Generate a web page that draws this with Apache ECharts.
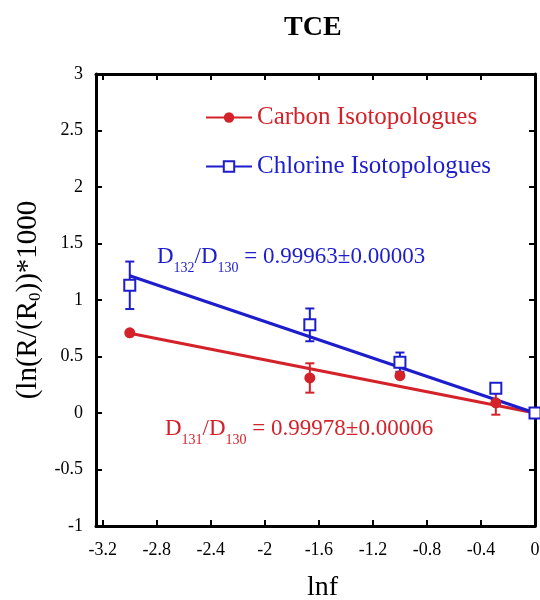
<!DOCTYPE html>
<html>
  <head>
    <meta charset="utf-8" />
    <title>TCE</title>
    <script src="https://cdn.jsdelivr.net/npm/echarts@6/dist/echarts.min.js"></script>
  </head>
  <body style="margin:0">
    <div id="container" style="width: 540px;height: 600px;"></div>

    <script type="text/javascript">
    // 数据（从图上读出来的估计值）
    var xTicks = [-3.2, -2.8, -2.4, -2, -1.6, -1.2, -0.8, -0.4, 0];
    var lnf = [-3.0, -1.667, -1.0, -0.29, 0];
    var carbon = [0.71, 0.31, 0.33, 0.09, 0];
    var carbonErr = [0, 0.13, 0, 0.105, 0];
    var chlorine = [1.13, 0.78, 0.45, 0.22, 0];
    var chlorineErr = [0.21, 0.145, 0.085, 0.025, 0];
    var fitX = [-3.0, 0];
    var carbonFit = [0.705, 0];
    var chlorineFit = [1.215, 0];

    var RED = '#d4222a';
    var BLUE = '#1d1dcc';
    var FONT = 'Liberation Serif';

    function pairs(xs, ys) {
      return xs.map(function (x, i) { return [x, ys[i]]; });
    }
    function errData(xs, ys, es) {
      var out = [];
      for (var i = 0; i < xs.length; i++) {
        if (es[i] > 0) out.push([xs[i], ys[i] - es[i], ys[i] + es[i]]);
      }
      return out;
    }
    // 误差棒
    function errRender(color) {
      return function (params, api) {
        var x = api.value(0);
        var top = api.coord([x, api.value(2)]);
        var bot = api.coord([x, api.value(1)]);
        var w = 4.5;
        var st = { stroke: color, lineWidth: 2 };
        return {
          type: 'group',
          children: [
            { type: 'line', shape: { x1: top[0], y1: top[1], x2: bot[0], y2: bot[1] }, style: st },
            { type: 'line', shape: { x1: top[0] - w, y1: top[1], x2: top[0] + w, y2: top[1] }, style: st },
            { type: 'line', shape: { x1: bot[0] - w, y1: bot[1], x2: bot[0] + w, y2: bot[1] }, style: st }
          ]
        };
      };
    }
    // 带下标的文字样式
    function subRich(color, size, subSize, subLH) {
      return {
        m: { fontFamily: FONT, fontSize: size, lineHeight: size, verticalAlign: 'top', color: color, fill: color },
        s: { fontFamily: FONT, fontSize: subSize, lineHeight: subLH, verticalAlign: 'bottom', color: color, fill: color }
      };
    }

    var axisLine = { onZero: false, lineStyle: { color: '#000', width: 3 } };
    var tick = { inside: true, length: 6, lineStyle: { color: '#000', width: 2 } };

    var myChart = echarts.init(document.getElementById('container'));
    var option = {
      animation: false,
      title: {
        text: 'TCE',
        left: 279,
        top: 9,
        textStyle: { fontFamily: FONT, fontWeight: 'bold', fontSize: 28, color: '#000' }
      },
      grid: { left: 96, right: 5, top: 74, bottom: 74, outerBoundsMode: 'none' },
      legend: {
        orient: 'vertical',
        left: 200,
        top: 100,
        itemWidth: 46,
        itemHeight: 13,
        itemGap: 24,
        textStyle: { fontFamily: FONT, fontSize: 25 },
        data: [
          { name: 'Carbon Isotopologues', textStyle: { color: RED } },
          { name: 'Chlorine Isotopologues', textStyle: { color: BLUE } }
        ]
      },
      xAxis: [
        {
          type: 'value', min: -3.25, max: 0, position: 'bottom',
          name: 'lnf', nameLocation: 'middle', nameGap: 48,
          nameTextStyle: { fontFamily: FONT, fontSize: 28, color: '#000', padding: [0, 0, 0, 14] },
          axisLine: axisLine,
          axisTick: Object.assign({ customValues: xTicks }, tick),
          axisLabel: { customValues: xTicks, margin: 15, fontFamily: FONT, fontSize: 18, color: '#000' },
          splitLine: { show: false }
        },
        {
          type: 'value', min: -3.25, max: 0, position: 'top',
          axisLine: axisLine,
          axisTick: Object.assign({ customValues: xTicks }, tick),
          axisLabel: { show: false, customValues: xTicks },
          splitLine: { show: false }
        }
      ],
      yAxis: [
        {
          type: 'value', min: -1, max: 3, interval: 0.5, position: 'left',
          name: '{m|(ln(R/(R}{s|0}{m|))*1000}', nameLocation: 'middle', nameGap: 52,
          nameTextStyle: { color: '#000', rich: subRich('#000', 29, 17, 30) },
          axisLine: axisLine,
          axisTick: tick,
          axisLabel: { margin: 13, fontFamily: FONT, fontSize: 18, color: '#000' },
          splitLine: { show: false }
        },
        {
          type: 'value', min: -1, max: 3, interval: 0.5, position: 'right',
          axisLine: axisLine,
          axisTick: tick,
          axisLabel: { show: false },
          splitLine: { show: false }
        }
      ],
      graphic: [
        {
          type: 'text', left: 157, top: 245, z: 10,
          style: {
            text: '{m|D}{s|132}{m|/D}{s|130}{m| = 0.99963±0.00003}',
            rich: subRich(BLUE, 23, 14, 30)
          }
        },
        {
          type: 'text', left: 165, top: 417, z: 10,
          style: {
            text: '{m|D}{s|131}{m|/D}{s|130}{m| = 0.99978±0.00006}',
            rich: subRich(RED, 23, 14, 30)
          }
        }
      ],
      series: [
        {
          name: 'Carbon Isotopologues', type: 'line',
          data: pairs(fitX, carbonFit),
          symbol: 'circle', symbolSize: 10, showSymbol: false,
          itemStyle: { color: RED },
          lineStyle: { color: RED, width: 3 },
          z: 2
        },
        {
          name: 'Chlorine Isotopologues', type: 'line',
          data: pairs(fitX, chlorineFit),
          symbol: 'emptyRect', symbolSize: 10, showSymbol: false,
          itemStyle: { color: BLUE, borderWidth: 2 },
          lineStyle: { color: BLUE, width: 3 },
          z: 3
        },
        {
          name: 'Carbon Isotopologues', type: 'custom',
          renderItem: errRender(RED),
          data: errData(lnf, carbon, carbonErr),
          z: 4
        },
        {
          name: 'Chlorine Isotopologues', type: 'custom',
          renderItem: errRender(BLUE),
          data: errData(lnf, chlorine, chlorineErr),
          z: 5
        },
        {
          name: 'Carbon Isotopologues', type: 'scatter',
          data: pairs(lnf, carbon),
          symbol: 'circle', symbolSize: 11,
          itemStyle: { color: RED, opacity: 1 },
          z: 6
        },
        {
          name: 'Chlorine Isotopologues', type: 'scatter',
          data: pairs(lnf, chlorine),
          symbol: 'rect', symbolSize: 11,
          itemStyle: { color: '#fff', borderColor: BLUE, borderWidth: 2, opacity: 1 },
          z: 7
        }
      ]
    };
    myChart.setOption(option);
    window.addEventListener('resize', myChart.resize);
    </script>
  </body>
</html>
